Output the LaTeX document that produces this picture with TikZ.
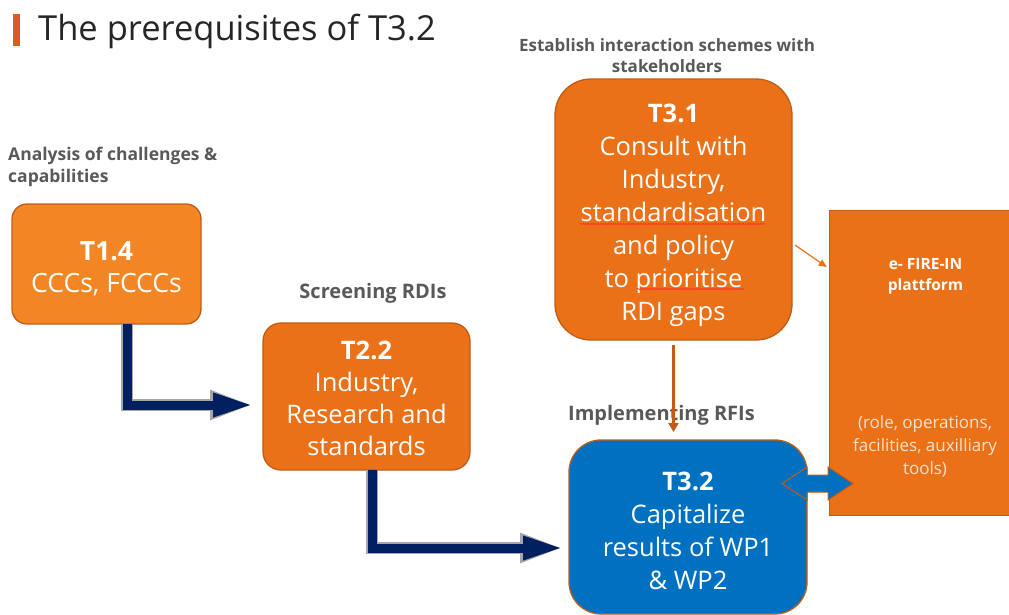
\documentclass[tikz,border=0pt]{standalone}
\usepackage{fontspec}
\setmainfont{Open Sans}
\usetikzlibrary{arrows.meta,decorations.pathmorphing,calc}

\definecolor{orgLight}{RGB}{242,133,36}
\definecolor{orgMain}{RGB}{234,113,24}
\definecolor{orgEdge}{RGB}{192,92,22}
\definecolor{bluefill}{RGB}{0,112,192}
\definecolor{navy}{RGB}{0,32,96}
\definecolor{labelgray}{RGB}{89,89,89}
\definecolor{barred}{RGB}{224,88,40}
\definecolor{peach}{RGB}{250,226,206}

\tikzset{
  taskbox/.style={draw=orgEdge, line width=1.3pt, inner sep=0pt, outer sep=0pt},
  boxtext/.style={text=white, align=center, inner sep=0pt},
  steplabel/.style={text=labelgray, inner sep=0pt},
  flowarrow/.style={line width=9pt, draw=navy, -{Triangle[length=40pt,width=22pt]}},
  flowglow/.style={line width=12pt, draw=gray!70, -{Triangle[length=43pt,width=27pt]}},
  thinorange/.style={draw=orgEdge, line width=3pt, -{Triangle[length=9pt,width=10pt]}},
  squiggle/.style={red!85, line width=0.5pt, decorate,
                   decoration={snake, amplitude=0.7pt, segment length=2.5pt}},
}

\begin{document}
\begin{tikzpicture}[x=1pt,y=-1pt]
\useasboundingbox (0,0) rectangle (1009,614);

% heading
\fill[barred] (13,14) rectangle (20,46);
\node[anchor=west, inner sep=0pt, text=black!85,
      font=\fontsize{34.5}{40}\selectfont] (title) at (38,31)
  {The prerequisites of T3.2};

% task boxes
\node[taskbox, fill=orgLight, rounded corners=15pt, minimum width=189pt,
      minimum height=120pt] (t14) at (106.5,264) {};
\node[boxtext, font=\fontsize{26.5}{32}\selectfont] (t14txt) at (106.5,269)
  {\textbf{T1.4}\\CCCs, FCCCs};

\node[taskbox, fill=orgMain, rounded corners=18pt, minimum width=207pt,
      minimum height=147pt] (t22) at (366.5,396.5) {};
\node[boxtext, font=\fontsize{25.5}{32}\selectfont] (t22txt) at (366.5,398)
  {\textbf{T2.2}\\Industry,\\Research and\\standards};

\node[taskbox, fill=orgMain, rounded corners=36pt, minimum width=237pt,
      minimum height=261pt] (t31) at (673.5,209.5) {};
\node[boxtext, font=\fontsize{25.5}{33}\selectfont] (t31txt) at (673.5,215)
  {\textbf{T3.1}\\Consult with\\Industry,\\standardisation\\and policy\\to prioritise\\RDI gaps};

\node[taskbox, fill=bluefill, rounded corners=32pt, minimum width=238pt,
      minimum height=174pt] (t32) at (688,527) {};
\node[boxtext, font=\fontsize{25.5}{33}\selectfont] (t32txt) at (688,531)
  {\textbf{T3.2}\\Capitalize\\results of WP1\\\& WP2};

% platform panel
\node[draw=orgEdge, line width=0.6pt, fill=orgMain, inner sep=0pt,
      minimum width=180pt, minimum height=305pt] (plat) at (919,362.5) {};
\node[boxtext, font=\bfseries\fontsize{15.5}{21}\selectfont] (platname) at (925.5,276)
  {e- FIRE-IN\\plattform};
\node[boxtext, text=peach, font=\fontsize{17}{23}\selectfont] (platdesc) at (925,446)
  {(role, operations,\\facilities, auxilliary\\tools)};

% step captions
\node[steplabel, anchor=north west, align=left,
      font=\bfseries\fontsize{17.5}{22}\selectfont] (capA) at (8,147)
  {Analysis of challenges \&\\capabilities};
\node[steplabel, font=\bfseries\fontsize{20}{22}\selectfont] (capB) at (373,293)
  {Screening RDIs};
\node[steplabel, align=center, font=\bfseries\fontsize{17}{21}\selectfont] (capC) at (667,56)
  {Establish interaction schemes with\\stakeholders};
\node[steplabel, anchor=west, font=\bfseries\fontsize{20}{22}\selectfont] (capD) at (568,415)
  {Implementing RFIs};

% spell-check squiggles
\draw[squiggle] (580,224) -- (765,224);
\draw[squiggle] (637,289) -- (744,289);

% navy flow arrows
\coordinate (endA) at (253,405);
\coordinate (endB) at (563,548);
\draw[flowglow] ([xshift=20.5pt]t14.south) |- (endA);
\draw[flowarrow] ([xshift=20.5pt]t14.south) |- (endA);
\draw[flowglow] ([xshift=5.5pt]t22.south) |- (endB);
\draw[flowarrow] ([xshift=5.5pt]t22.south) |- (endB);

% T3.1 feeds T3.2
\draw[thinorange] ([yshift=-5pt]t31.south) -- ([yshift=8pt]t31.south |- t32.north);

% pointer to the platform
\coordinate (ptrS) at (795,245);
\draw[draw=orgMain, line width=1.2pt, -{Triangle[length=8pt,width=7pt]}]
  (ptrS) -- ([xshift=-2pt,yshift=95.5pt]plat.west);

% two-way link between T3.2 and the platform
\draw[fill=bluefill, draw=orgEdge, line width=1pt]
  (782,483.5) -- (807,467) -- (807,475) -- (828,475) -- (828,467)
  -- (853,483.5) -- (828,500) -- (828,492) -- (807,492) -- (807,500) -- cycle;
\end{tikzpicture}
\end{document}
